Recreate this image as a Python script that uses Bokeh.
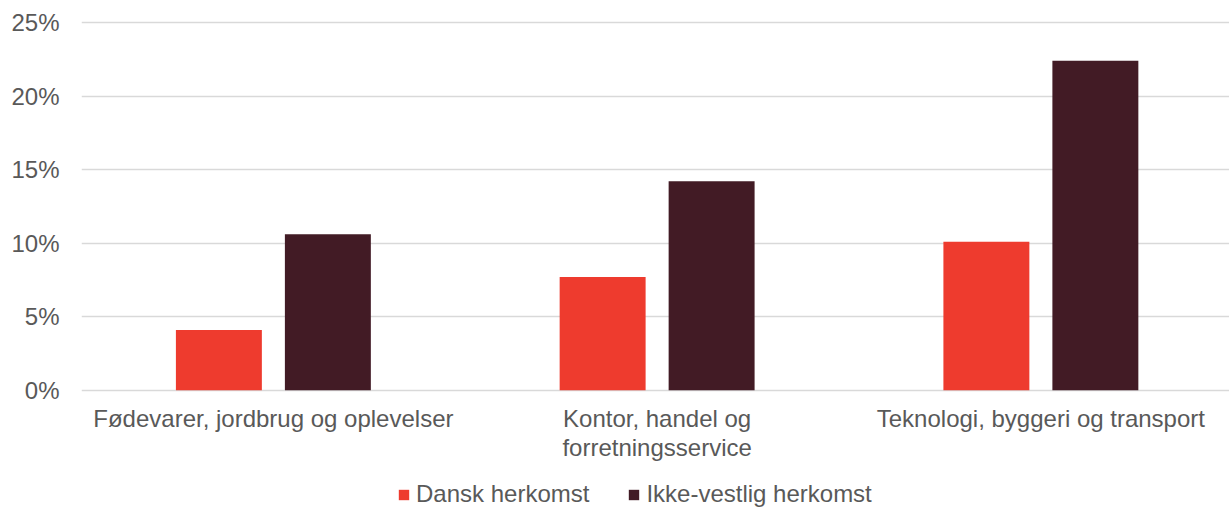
import numpy as np
from bokeh.plotting import figure
from bokeh.layouts import column
from bokeh.models import (ColumnDataSource, Range1d, FixedTicker, PrintfTickFormatter,
                          Legend, LegendItem)
from bokeh.transform import dodge
from bokeh.embed import file_html
from bokeh.resources import INLINE

categories = ["Fødevarer, jordbrug og oplevelser",
              "Kontor, handel og\nforretningsservice",
              "Teknologi, byggeri og transport"]
series_names = ["Dansk herkomst", "Ikke-vestlig herkomst"]
dansk = [4.1, 7.7, 10.1]
ikke_vestlig = [10.6, 14.2, 22.4]
y_ticks = [0, 5, 10, 15, 20, 25]

colors = ["#EE3B2E", "#421B25"]
FONT = "Liberation Sans"
TEXT_COLOR = "#595959"

xpos = (np.arange(len(categories)) + 0.5).tolist()
source = ColumnDataSource(dict(x=xpos, dansk=dansk, ikke=ikke_vestlig))

W = 1229
H_MAIN, H_LEG = 470, 38
left = 81
frame_w = W - left
spacing_px = 383.75
px_per_pct = 14.7
y0, y1 = -0.15, 25.2
top = round(389.5 - y1 * px_per_pct)
bottom = round(H_MAIN - (389.5 - y0 * px_per_pct))

p = figure(width=W, height=H_MAIN, output_backend="svg", toolbar_location=None,
           x_range=Range1d(0, frame_w / spacing_px), y_range=Range1d(y0, y1),
           min_border_left=left, min_border_right=0, min_border_top=top,
           min_border_bottom=bottom)
p.outline_line_color = None
p.background_fill_color = "white"
p.border_fill_color = "white"

bw = 0.224
off = 0.142
p.vbar(x=dodge("x", -off, range=p.x_range), top="dansk", bottom=0, width=bw,
       source=source, fill_color=colors[0], line_color=None)
p.vbar(x=dodge("x", off, range=p.x_range), top="ikke", bottom=0, width=bw,
       source=source, fill_color=colors[1], line_color=None)

# y axis
p.yaxis.ticker = FixedTicker(ticks=y_ticks)
p.yaxis.formatter = PrintfTickFormatter(format="%d%%")
p.yaxis.axis_line_color = None
p.yaxis.major_tick_line_color = None
p.yaxis.minor_tick_line_color = None
p.yaxis.major_tick_out = 0
p.yaxis.major_tick_in = 0
p.yaxis.major_label_standoff = 22
p.yaxis.major_label_text_font = FONT
p.yaxis.major_label_text_font_size = "24px"
p.yaxis.major_label_text_color = TEXT_COLOR

# x axis
p.xaxis.ticker = FixedTicker(ticks=xpos)
p.xaxis.major_label_overrides = {x: c for x, c in zip(xpos, categories)}
p.xaxis.axis_line_color = None
p.xaxis.major_tick_line_color = None
p.xaxis.minor_tick_line_color = None
p.xaxis.major_tick_out = 0
p.xaxis.major_tick_in = 0
p.xaxis.major_label_standoff = 12
p.xaxis.major_label_text_font = FONT
p.xaxis.major_label_text_font_size = "24px"
p.xaxis.major_label_text_color = TEXT_COLOR
p.xaxis.major_label_text_line_height = 1.1

p.xgrid.grid_line_color = None
p.ygrid.ticker = FixedTicker(ticks=y_ticks)
p.ygrid.grid_line_color = "#D9D9D9"
p.ygrid.grid_line_width = 1.5

# legend strip below the chart (its frame is aligned with the chart's frame)
q = figure(width=W, height=H_LEG, output_backend="svg", toolbar_location=None,
           x_axis_type=None, y_axis_type=None,
           x_range=Range1d(100, 101), y_range=Range1d(100, 200),
           min_border_left=0, min_border_right=0, min_border_top=0,
           min_border_bottom=0)
q.outline_line_color = None
q.xgrid.grid_line_color = None
q.ygrid.grid_line_color = None
# same series, kept outside the strip's visible range; only their legend swatches show
s1 = q.vbar(x="x", top="dansk", bottom=0, width=bw, source=source,
            fill_color=colors[0], line_color=None)
s2 = q.vbar(x="x", top="ikke", bottom=0, width=bw, source=source,
            fill_color=colors[1], line_color=None)

legend = Legend(items=[LegendItem(label=series_names[0], renderers=[s1]),
                       LegendItem(label=series_names[1], renderers=[s2])],
                orientation="horizontal", location=(397 - left, 0),
                glyph_width=13, glyph_height=13, label_standoff=6, spacing=38,
                padding=0, margin=0, border_line_color=None,
                background_fill_alpha=0,
                label_text_font=FONT, label_text_font_size="24px",
                label_text_color=TEXT_COLOR, label_height=26)
q.add_layout(legend, "center")

layout = column(p, q, spacing=0)
open("out.html", "w").write(file_html(layout, INLINE))
